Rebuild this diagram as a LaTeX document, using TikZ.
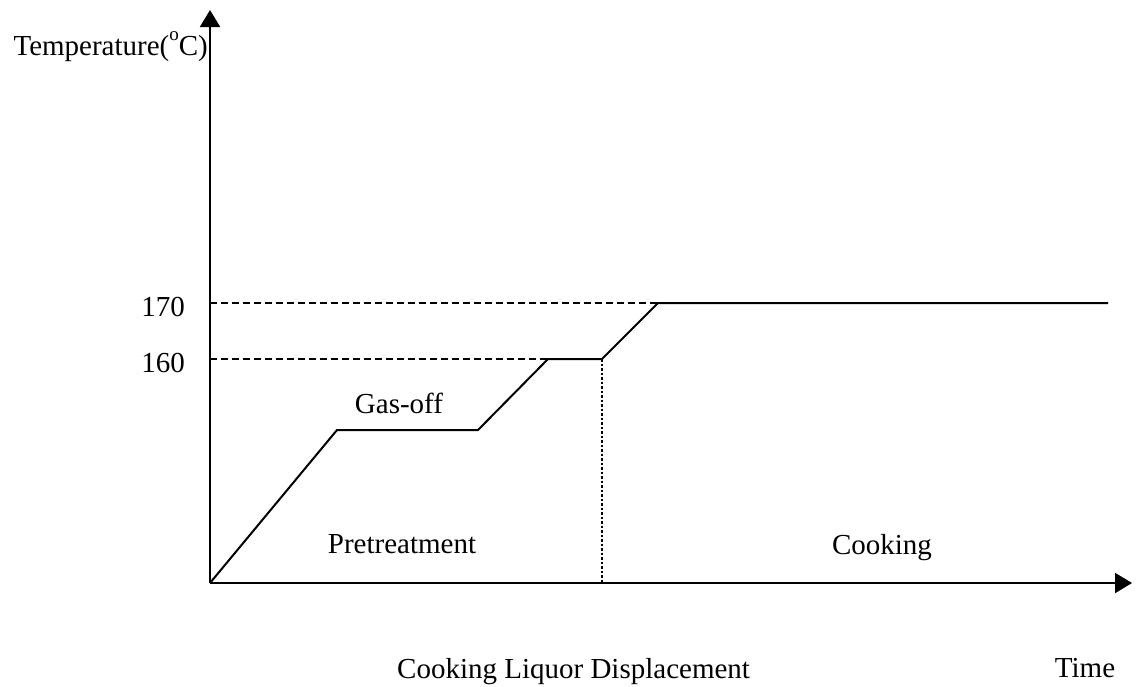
\documentclass[tikz,border=0pt]{standalone}
\usepackage{fontspec}
\setmainfont{Liberation Serif}
\usetikzlibrary{arrows.meta}
\begin{document}
\begin{tikzpicture}[x=1pt,y=-1pt,
  axis/.style={line width=2pt,-{Triangle[length=17pt,width=20pt]}},
  curve/.style={line width=2pt},
  guide/.style={line width=1.6pt,dash pattern=on 7pt off 4pt},
  dotline/.style={line width=1.6pt,dash pattern=on 2.5pt off 2pt},
  lbl/.style={font=\fontsize{29}{32}\selectfont,inner sep=0pt}]
\useasboundingbox (0,0) rectangle (1139,686);
\coordinate (O) at (210,583);
\coordinate (ytop) at (210,10);
\coordinate (xend) at (1132,583);
\coordinate (p1) at (337,430);
\coordinate (p2) at (478,430);
\coordinate (p3) at (548,359);
\coordinate (p4) at (602,359);
\coordinate (p5) at (658,303);
\coordinate (p6) at (1108,303);
\coordinate (y170) at (210,303);
\coordinate (y160) at (210,359);
\coordinate (xd) at (602,583);
\draw[axis] (O) -- (ytop);
\draw[axis] (O) -- (xend);
\draw[guide] (y170) -- (p5);
\draw[guide] (y160) -- (p3);
\draw[dotline] (p4) -- (xd);
\draw[curve,line join=miter] (O) -- (p1) -- (p2) -- (p3) -- (p4) -- (p5) -- (p6);
\node[lbl,anchor=base east] (tl) at (208,55) {Temperature(\raisebox{0.5em}{\fontsize{19}{20}\selectfont o}C)};
\node[lbl,anchor=base east] (l170) at (185,316) {170};
\node[lbl,anchor=base east] (l160) at (185,372) {160};
\node[lbl,anchor=base] (gas) at (399,413) {Gas-off};
\node[lbl,anchor=base] (pre) at (402,553) {Pretreatment};
\node[lbl,anchor=base] (cook) at (882,554) {Cooking};
\node[lbl,anchor=base west] (cld) at (397,678) {Cooking Liquor Displacement};
\node[lbl,anchor=base] (time) at (1085,677) {Time};
\end{tikzpicture}
\end{document}
